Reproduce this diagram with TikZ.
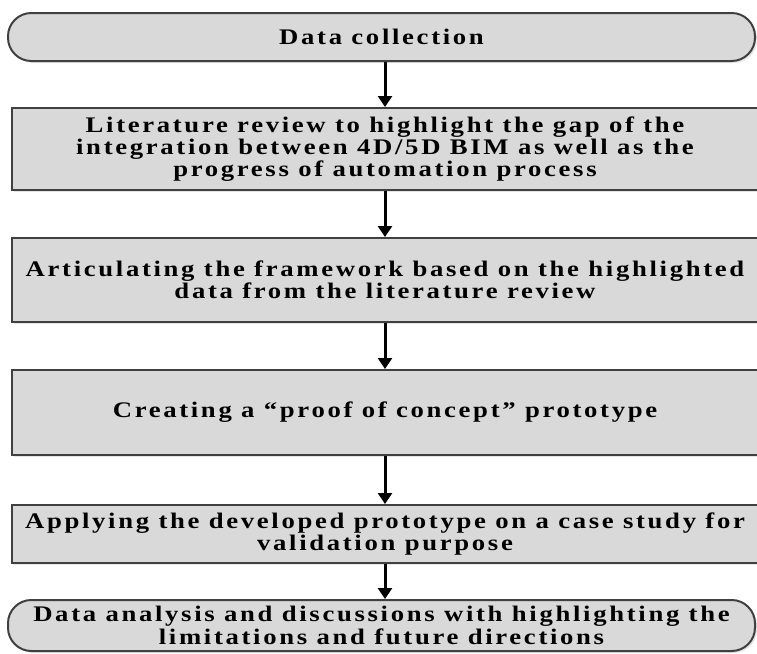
\documentclass[tikz,border=0pt]{standalone}
\usepackage{fontspec}
\setmainfont{Liberation Serif}[FakeStretch=1.2,LetterSpace=12]
\usepackage{xcolor}
\usepackage{tikz}
\usetikzlibrary{arrows.meta,shadows}

\definecolor{boxfill}{RGB}{217,217,217}
\definecolor{boxline}{RGB}{64,64,64}

\begin{document}
\begin{tikzpicture}[
    stepbox/.style={draw=boxline, line width=0.06cm, fill=boxfill,
        drop shadow={opacity=0.2, shadow xshift=0.06cm, shadow yshift=-0.06cm},
        align=center, inner sep=0pt,
        font=\bfseries\fontsize{19}{19}\selectfont},
    endbox/.style={stepbox, rounded corners=0.7cm},
    flow/.style={line width=0.09cm, -{Triangle[width=0.42cm,length=0.33cm]}}
]
        \useasboundingbox (0,0) rectangle (22.71,-19.59);

        \node[endbox, minimum width=22.41cm, minimum height=1.44cm] (collect) at (11.445,-1.11) {Data collection};

        \node[stepbox, minimum width=22.35cm, minimum height=2.46cm] (review) at (11.55,-4.47)
            {Literature review to highlight the gap of the\\integration between 4D/5D BIM as well as the\\progress of automation process};

        \node[stepbox, minimum width=22.35cm, minimum height=2.52cm] (frame) at (11.55,-8.4)
            {Articulating the framework based on the highlighted\\data from the literature review};

        \node[stepbox, minimum width=22.35cm, minimum height=2.55cm] (proto) at (11.55,-12.375)
            {Creating a “proof of concept” prototype};

        \node[stepbox, minimum width=22.35cm, minimum height=1.74cm] (apply) at (11.55,-16.02)
            {Applying the developed prototype on a case study for\\validation purpose};

        \node[endbox, minimum width=22.41cm, minimum height=1.53cm] (analysis) at (11.445,-18.765)
            {Data analysis and discussions with highlighting the\\limitations and future directions};

        \draw[flow] (review.north |- collect.south) -- (review.north);
        \draw[flow] (review.south) -- (frame.north);
        \draw[flow] (frame.south) -- (proto.north);
        \draw[flow] (proto.south) -- (apply.north);
        \draw[flow] (apply.south) -- (apply.south |- analysis.north);
\end{tikzpicture}
\end{document}
